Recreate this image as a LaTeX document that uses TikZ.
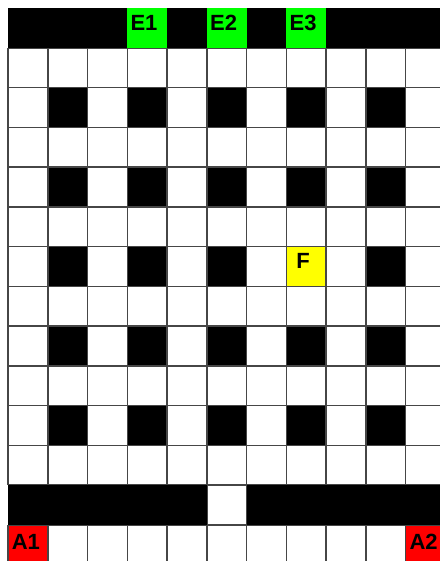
\documentclass[tikz,border=0pt]{standalone}
\usepackage{fontspec}
\setmainfont{Liberation Sans}
\definecolor{egreen}{RGB}{0,255,0}
\definecolor{ared}{RGB}{255,0,0}
\definecolor{fyellow}{RGB}{255,255,0}
\definecolor{gridcol}{RGB}{70,70,70}
\begin{document}
\begin{tikzpicture}[x=39.77pt,y=-39.77pt,
  gridline/.style={draw=gridcol,line width=1.5pt},
  lab/.style={inner sep=0pt,font=\fontsize{22}{22}\selectfont\bfseries}]
\useasboundingbox (-0.2012,-0.2012) rectangle (10.8625,13.9050);
\clip (-0.2012,-0.2012) rectangle (10.8625,13.9050);
% white area
\fill[white] (0,1) rectangle (11,14);
% black pillars
\foreach \r in {2,4,...,10}
  \foreach \c in {1,3,...,9}
    \fill[black] (\c,\r) rectangle +(1,1);
% F cell
\fill[fyellow] (7,6) rectangle (8,7);
% red cells
\fill[ared] (0,13) rectangle (1,14);
\fill[ared] (10,13) rectangle (11,14);
% grid lines
\foreach \c in {0,...,11} {
  \draw[gridline] (\c,1) -- (\c,12);
  \draw[gridline] (\c,13) -- (\c,14);
}
\foreach \r in {1,...,12}
  \draw[gridline] (0,\r) -- (11,\r);
\draw[gridline] (0,13) -- (11,13);
\draw[gridline] (5,12) rectangle (6,13);
% top band
\fill[black] (0,0) rectangle (11,1);
\fill[egreen] (3,0) rectangle (4,1);
\fill[egreen] (5,0) rectangle (6,1);
\fill[egreen] (7,0) rectangle (8,1);
% bottom band
\fill[black] (0,12) rectangle (5,13);
\fill[black] (6,12) rectangle (11,13);
% labels
\node[lab] (e1) at (3.42,0.37) {E1};
\node[lab] (e2) at (5.42,0.37) {E2};
\node[lab] (e3) at (7.42,0.37) {E3};
\node[lab] (f) at (7.42,6.37) {F};
\node[lab] (a1) at (0.45,13.42) {A1};
\node[lab] (a2) at (10.45,13.42) {A2};
\end{tikzpicture}
\end{document}
